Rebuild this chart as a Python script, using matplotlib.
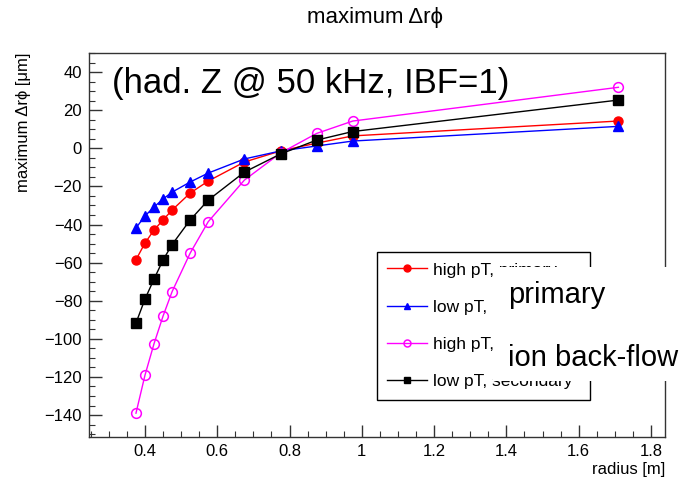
import matplotlib
matplotlib.use("Agg")
import matplotlib.pyplot as plt
from matplotlib.patches import Rectangle
from matplotlib.ticker import MultipleLocator

plt.rcParams['font.family'] = ['Liberation Sans', 'DejaVu Sans']

# radius [m]
radius = [0.375, 0.40, 0.425, 0.45, 0.475, 0.525, 0.575, 0.675, 0.775, 0.875, 0.975, 1.71]

# maximum delta r-phi [um]
high_pt_primary = [-58.5, -49.7, -42.9, -37.6, -32.4, -23.5, -17.2, -7.2, -1.4, 2.7, 6.5, 14.3]
low_pt_primary = [-41.8, -35.5, -30.8, -26.6, -23.0, -17.7, -13.0, -5.6, -1.4, 1.2, 3.8, 11.5]
high_pt_secondary = [-139.0, -119.0, -102.5, -88.0, -75.2, -55.0, -38.5, -16.7, -2.5, 7.8, 14.3, 32.0]
low_pt_secondary = [-91.7, -79.1, -68.6, -58.6, -50.5, -37.6, -27.2, -12.5, -3.0, 4.3, 8.8, 25.3]

labels = ["high pT, primary", "low pT, primary", "high pT, secondary", "low pT, secondary"]

W, H = 683, 482
fig = plt.figure(figsize=(W / 100, H / 100), dpi=100)
ax = fig.add_axes([89 / W, 1 - 437 / H, 576 / W, 384 / H])

ax.plot(radius, high_pt_primary, color='#ff0000', lw=1, marker='o', ms=6.5, label=labels[0])
ax.plot(radius, low_pt_primary, color='#0000ff', lw=1, marker='^', ms=6.5, label=labels[1])
ax.plot(radius, high_pt_secondary, color='#ff00ff', lw=1, marker='o', ms=7, mfc='none', mew=1.1, label=labels[2])
ax.plot(radius, low_pt_secondary, color='black', lw=1, marker='s', ms=6.5, label=labels[3])

ax.set_xlim(0.245, 1.839)
ax.set_ylim(-151.5, 50)
ax.xaxis.set_minor_locator(MultipleLocator(0.05))
ax.yaxis.set_major_locator(MultipleLocator(20))
ax.yaxis.set_minor_locator(MultipleLocator(5))
ax.set_xticks([0.4, 0.6, 0.8, 1.0, 1.2, 1.4, 1.6, 1.8])
ax.set_xticklabels(["0.4", "0.6", "0.8", "1", "1.2", "1.4", "1.6", "1.8"])
ax.tick_params(which='both', direction='in', top=False, right=False, labelsize=12, color='#333333')
ax.tick_params(which='major', length=9, width=1)
ax.tick_params(which='minor', length=4.5, width=0.8)
ax.tick_params(axis='y', pad=5)
ax.tick_params(axis='x', pad=5)
for s in ax.spines.values():
    s.set_linewidth(1)
    s.set_color('#333333')

ax.set_xlabel("radius [m]", fontsize=12, loc='right', labelpad=2)
ax.set_ylabel("maximum Δrϕ [μm]", fontsize=12, loc='top', labelpad=10)

fig.text(375 / W, 1 - 18 / H, "maximum Δrϕ", fontsize=16, ha='center', va='center')

leg = ax.legend(loc='upper left', bbox_to_anchor=(377 / W, 1 - 252 / H), bbox_transform=fig.transFigure,
                fontsize=12.5, frameon=True, fancybox=False, edgecolor='black', framealpha=1,
                handlelength=2.3, labelspacing=1.27, borderpad=0.6, handletextpad=0.35,
                borderaxespad=0)
leg.get_frame().set_linewidth(1)
for h in leg.legend_handles:
    h.set_markersize(5)

fig.text(112 / W, 1 - 84 / H, "(had. Z @ 50 kHz, IBF=1)", fontsize=25, ha='left', va='center')

# white box pasted over part of the legend
fig.patches.append(Rectangle((493 / W, 1 - 381 / H), (W - 493) / W, 114 / H, transform=fig.transFigure,
                             facecolor='white', edgecolor='none', zorder=10))
fig.text(508 / W, 1 - 295 / H, "primary", fontsize=21, ha='left', va='center', zorder=11)
fig.text(508 / W, 1 - 358 / H, "ion back-flow", fontsize=21, ha='left', va='center', zorder=11)

fig.savefig("out.png", dpi=100)
